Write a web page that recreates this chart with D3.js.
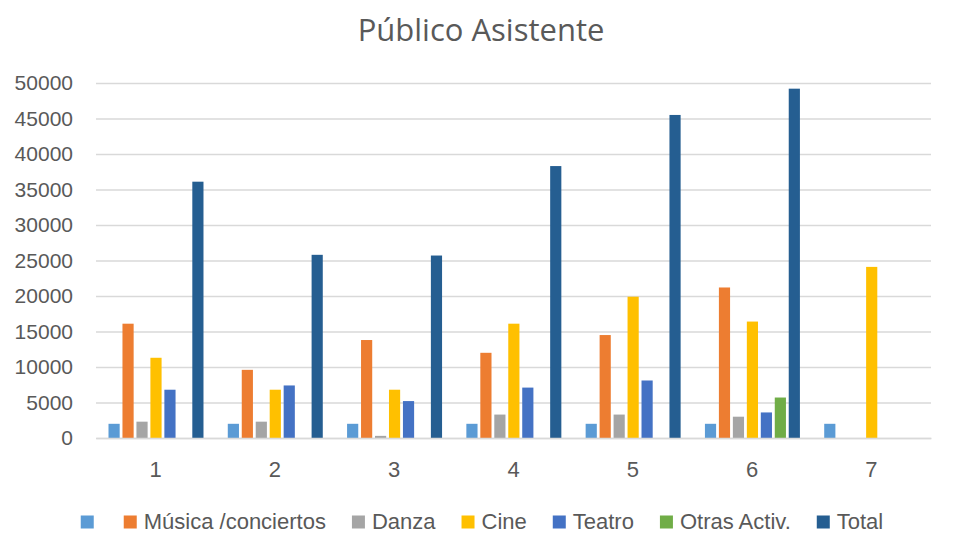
<!DOCTYPE html>
<html>

<head>
	<meta charset='utf-8' />
	<title>Público Asistente</title>
	<script src="https://d3js.org/d3.v7.min.js"></script>
	<style>
		body {
			margin: 0;
			background: white;
		}

		svg {
			display: block;
			font-family: "Liberation Sans", Arial, sans-serif;
		}

		.title {
			font-family: "Open Sans", sans-serif;
			font-size: 31px;
			fill: #595959;
		}

		.y-axis text,
		.x-axis text {
			fill: #595959;
		}

		.legend text {
			fill: #595959;
			font-size: 22px;
		}
	</style>
</head>

<body>

	<svg id="chart" width="954" height="540"></svg>

	<script>
		// categorias (eje x)
		var categories = ["1", "2", "3", "4", "5", "6", "7"];

		// nombres de las series (la primera no tiene nombre)
		var keys = ["", "Música /conciertos", "Danza", "Cine", "Teatro", "Otras Activ.", "Total"];

		// valores por serie
		var serie1 = [2000, 2000, 2000, 2000, 2000, 2000, 2000];
		var musica = [16100, 9600, 13800, 12000, 14500, 21200, null];
		var danza = [2300, 2300, 300, 3300, 3300, 3000, null];
		var cine = [11300, 6800, 6800, 16100, 19900, 16400, 24100];
		var teatro = [6800, 7400, 5200, 7100, 8100, 3600, null];
		var otras = [null, null, null, null, null, 5700, null];
		var total = [36100, 25800, 25700, 38300, 45500, 49200, null];

		var yTicks = [0, 5000, 10000, 15000, 20000, 25000, 30000, 35000, 40000, 45000, 50000];

		var colors = ["#5B9BD5", "#ED7D31", "#A5A5A5", "#FFC000", "#4472C4", "#70AD47", "#255E91"];

		var series = [serie1, musica, danza, cine, teatro, otras, total];

		var data = categories.map(function (c, i) {
			var row = { cat: c };
			keys.forEach(function (k, j) { row[k] = series[j][i]; });
			return row;
		});

		var svg = d3.select("#chart"),
			margin = { top: 83, left: 96, bottom: 102, right: 23 },
			width = +svg.attr("width") - margin.left - margin.right,
			height = +svg.attr("height") - margin.top - margin.bottom;

		svg.append("text")
			.attr("class", "title")
			.attr("x", 481)
			.attr("y", 41)
			.attr("text-anchor", "middle")
			.text("Público Asistente");

		var x0 = d3.scaleBand()
			.domain(categories)
			.range([margin.left, margin.left + width]);

		var x1 = d3.scaleBand()
			.domain(keys)
			.range([12.5, x0.bandwidth() - 11.8])
			.paddingInner(0.2);

		var y = d3.scaleLinear()
			.domain([0, 50000])
			.range([margin.top + height, margin.top]);

		var z = d3.scaleOrdinal()
			.domain(keys)
			.range(colors);

		// rejilla + etiquetas del eje y
		var yAxis = svg.append("g")
			.attr("class", "y-axis")
			.attr("transform", `translate(${margin.left},0)`)
			.call(d3.axisLeft(y).tickValues(yTicks).tickSize(-width).tickPadding(23).tickFormat(d3.format("d")))
			.style("font-size", "21px")
			.style("font-family", "'Liberation Sans', Arial, sans-serif");

		yAxis.select(".domain").remove();
		yAxis.selectAll(".tick line")
			.attr("stroke", "#D9D9D9")
			.attr("stroke-width", 1.3);

		// barras
		var groups = svg.append("g")
			.selectAll("g")
			.data(data)
			.enter().append("g")
			.attr("transform", d => `translate(${x0(d.cat)},0)`);

		groups.selectAll("rect")
			.data(d => keys.map(k => ({ key: k, value: d[k] })).filter(e => e.value != null))
			.enter().append("rect")
			.attr("x", d => x1(d.key))
			.attr("width", x1.bandwidth())
			.attr("y", d => y(d.value))
			.attr("height", d => y(0) - y(d.value))
			.attr("fill", d => z(d.key));

		// eje x
		var xAxis = svg.append("g")
			.attr("class", "x-axis")
			.attr("transform", `translate(0,${margin.top + height})`)
			.call(d3.axisBottom(x0).tickSize(0).tickPadding(23))
			.style("font-size", "22px")
			.style("font-family", "'Liberation Sans', Arial, sans-serif");

		xAxis.select(".domain")
			.attr("stroke", "#D9D9D9")
			.attr("stroke-width", 1.3);

		// leyenda
		var legend = svg.append("g").attr("class", "legend");

		var items = legend.selectAll("g")
			.data(keys)
			.enter().append("g");

		items.append("rect")
			.attr("width", 13)
			.attr("height", 13)
			.attr("y", 515.5)
			.attr("fill", d => z(d));

		items.append("text")
			.attr("x", 20)
			.attr("y", 529)
			.text(d => d);

		var pos = 0;
		items.each(function (d) {
			var w = d3.select(this).select("text").node().getComputedTextLength();
			d3.select(this).attr("transform", `translate(${pos},0)`);
			pos += 13 + 7 + w + (d == "" ? 23 : 26);
		});
		pos -= 26;
		legend.attr("transform", `translate(${482 - pos / 2},0)`);

	</script>

</body>

</html>
